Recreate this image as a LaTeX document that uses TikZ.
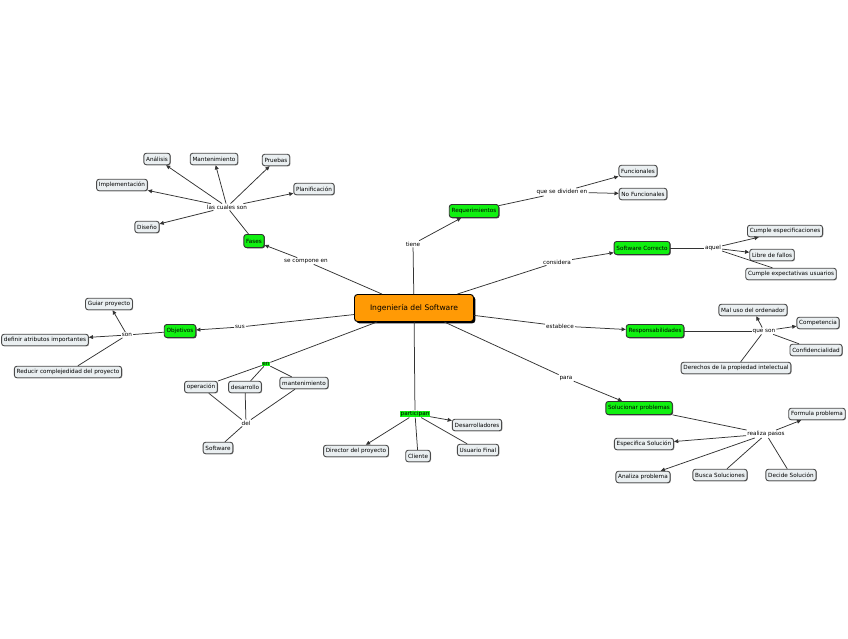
\documentclass[tikz,border=0pt]{standalone}
\usepackage{fontspec}
\setmainfont{DejaVu Sans}
\usetikzlibrary{shadows,arrows.meta}
\definecolor{conceptfill}{HTML}{EAEFF1}
\definecolor{conceptdraw}{HTML}{4A4A4A}
\definecolor{mainfill}{HTML}{FF9A05}
\definecolor{greenfill}{HTML}{10F010}
\definecolor{linecol}{HTML}{333333}
\tikzset{
  concept/.style={draw=conceptdraw, line width=0.9pt, fill=conceptfill, rounded corners=2.5pt,
    font=\fontsize{5.7}{6.5}\selectfont, inner xsep=2.3pt, inner ysep=0pt, minimum height=11.5pt,
    drop shadow={shadow xshift=0.7pt, shadow yshift=-0.7pt, fill=gray!70, opacity=1}},
  gconcept/.style={concept, draw=black!80, fill=greenfill, minimum height=13pt,
    drop shadow={shadow xshift=0.8pt, shadow yshift=-0.8pt, fill=black!70, opacity=1}},
  mainconcept/.style={draw=black, line width=0.9pt, fill=mainfill, rounded corners=3pt,
    font=\fontsize{7.6}{8.5}\selectfont, minimum width=119pt, minimum height=27pt,
    drop shadow={shadow xshift=1.8pt, shadow yshift=-1.8pt, fill=black, opacity=1}},
  link/.style={font=\fontsize{5.7}{6.5}\selectfont, inner sep=1pt},
  glink/.style={link, fill=greenfill, inner sep=0.6pt},
  conn/.style={draw=linecol, line width=0.75pt},
  arr/.style={conn, -{Triangle[length=4.2pt,width=3.8pt]}},
}
\begin{document}
\begin{tikzpicture}[x=1pt,y=-1pt]
\useasboundingbox (0,0) rectangle (848,638);
% main
\node[mainconcept] (main) at (414,308) {Ingeniería del Software};
% top: requerimientos
\node[gconcept] (req) at (474,211) {Requerimientos};
\node[concept] (func) at (638,171) {Funcionales};
\node[concept] (nofunc) at (643,194) {No Funcionales};
\node[link] (tiene) at (413,244) {tiene};
\node[link] (qsd) at (562,192) {que se dividen en};
% software correcto
\node[gconcept] (swc) at (642,248) {Software Correcto};
\node[link] (considera) at (557,262) {considera};
\node[link] (aquel) at (713,248) {aquel};
\node[concept] (cumpesp) at (785,231) {Cumple especificaciones};
\node[concept] (libre) at (772,255) {Libre de fallos};
\node[concept] (cumpexp) at (791,274) {Cumple expectativas usuarios};
% responsabilidades
\node[gconcept] (resp) at (655,331) {Responsabilidades};
\node[link] (establece) at (560,326) {establece};
\node[link] (queson) at (764,331) {que son};
\node[concept] (maluso) at (753,310) {Mal uso del ordenador};
\node[concept] (comp) at (818,323) {Competencia};
\node[concept] (conf) at (816,350) {Confidencialidad};
\node[concept] (derechos) at (736,368) {Derechos de la propiedad intelectual};
% solucionar problemas
\node[gconcept] (solu) at (639,408) {Solucionar problemas};
\node[link] (para) at (566,378) {para};
\node[link] (realiza) at (766,434) {realiza pasos};
\node[concept] (formula) at (817,414) {Formula problema};
\node[concept] (especifica) at (644,444) {Especifica Solución};
\node[concept] (analiza) at (643,477) {Analiza problema};
\node[concept] (busca) at (720,475) {Busca Soluciones};
\node[concept] (decide) at (791,475) {Decide Solución};
% participan
\node[glink] (participan) at (415,414) {participan};
\node[concept] (desarr) at (477,425) {Desarrolladores};
\node[concept] (usuario) at (478,450) {Usuario Final};
\node[concept] (cliente) at (418,456) {Cliente};
\node[concept] (director) at (356,451) {Director del proyecto};
% en / del
\node[glink] (en) at (266,364) {en};
\node[concept] (operacion) at (201,387) {operación};
\node[concept] (desarrollo) at (245,387) {desarrollo};
\node[concept] (mant2) at (304,383) {mantenimiento};
\node[link] (del) at (246,423) {del};
\node[concept] (software) at (218,448) {Software};
% objetivos
\node[gconcept] (obj) at (180,331) {Objetivos};
\node[link] (sus) at (240,327) {sus};
\node[link] (son) at (127,335) {son};
\node[concept] (guiar) at (109,304) {Guiar proyecto};
\node[concept] (definir) at (45,340) {definir atributos importantes};
\node[concept] (reducir) at (68,372) {Reducir complejedidad del proyecto};
% fases
\node[gconcept] (fases) at (254,241) {Fases};
\node[link] (secompone) at (306,261) {se compone en};
\node[link] (lcs) at (227,207) {las cuales son};
\node[concept] (analisis) at (157,159) {Análisis};
\node[concept] (mantenimiento) at (214,159) {Mantenimiento};
\node[concept] (pruebas) at (276,160) {Pruebas};
\node[concept] (implementacion) at (122,185) {Implementación};
\node[concept] (planificacion) at (314,189) {Planificación};
\node[concept] (diseno) at (147,227) {Diseño};
% connectors
\draw[conn] (main) -- (tiene);
\draw[arr] (tiene) -- (req);
\draw[conn] (req) -- (qsd);
\draw[arr] (qsd) -- (func);
\draw[arr] (qsd) -- (nofunc);
\draw[conn] (main) -- (considera);
\draw[arr] (considera) -- (swc);
\draw[conn] (swc) -- (aquel);
\draw[arr] (aquel) -- (cumpesp);
\draw[arr] (aquel) -- (libre);
\draw[conn] (aquel) -- (cumpexp);
\draw[conn] (main) -- (establece);
\draw[arr] (establece) -- (resp);
\draw[conn] (resp) -- (queson);
\draw[arr] (queson) -- (maluso);
\draw[arr] (queson) -- (comp);
\draw[conn] (queson) -- (conf);
\draw[conn] (queson) -- (derechos);
\draw[conn] (main) -- (para);
\draw[arr] (para) -- (solu);
\draw[conn] (solu) -- (realiza);
\draw[arr] (realiza) -- (formula);
\draw[arr] (realiza) -- (especifica);
\draw[arr] (realiza) -- (analiza);
\draw[conn] (realiza) -- (busca);
\draw[conn] (realiza) -- (decide);
\draw[conn] (main) -- (participan);
\draw[arr] (participan) -- (desarr);
\draw[arr] (participan) -- (director);
\draw[conn] (participan) -- (cliente);
\draw[conn] (participan) -- (usuario);
\draw[conn] (main) -- (en);
\draw[conn] (en) -- (operacion);
\draw[conn] (en) -- (desarrollo);
\draw[conn] (en) -- (mant2);
\draw[conn] (operacion) -- (del);
\draw[conn] (desarrollo) -- (del);
\draw[conn] (mant2) -- (del);
\draw[conn] (del) -- (software);
\draw[conn] (main) -- (sus);
\draw[arr] (sus) -- (obj);
\draw[conn] (obj) -- (son);
\draw[arr] (son) -- (guiar);
\draw[arr] (son) -- (definir);
\draw[conn] (son) -- (reducir);
\draw[conn] (main) -- (secompone);
\draw[arr] (secompone) -- (fases);
\draw[conn] (fases) -- (lcs);
\draw[arr] (lcs) -- (analisis);
\draw[arr] (lcs) -- (mantenimiento);
\draw[arr] (lcs) -- (pruebas);
\draw[arr] (lcs) -- (implementacion);
\draw[arr] (lcs) -- (planificacion);
\draw[arr] (lcs) -- (diseno);
\end{tikzpicture}
\end{document}
